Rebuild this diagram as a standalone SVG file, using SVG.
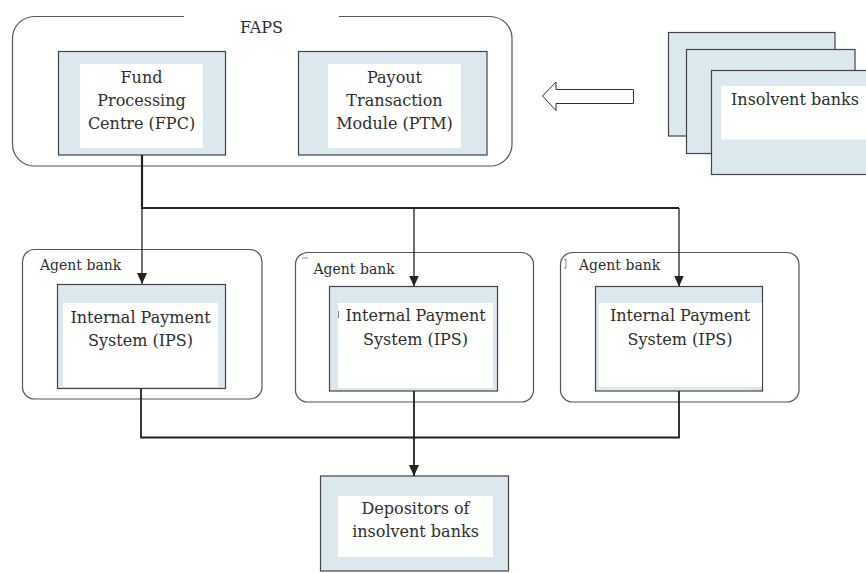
<svg xmlns="http://www.w3.org/2000/svg" width="866" height="573" viewBox="0 0 866 573">
<style>
.t{font-family:"DejaVu Serif","Liberation Serif",serif;font-size:16px;fill:#2e2e2e;text-anchor:middle}
.s{font-family:"DejaVu Serif","Liberation Serif",serif;font-size:14px;fill:#2e2e2e}
.blue{fill:#dbe9ef;stroke:#444;stroke-width:1.2}
.white{fill:#fff}
.grp{fill:none;stroke:#555;stroke-width:1.2}
.thick{fill:none;stroke:#222;stroke-width:2.2}
.thin{fill:none;stroke:#222;stroke-width:1.3}
.med{fill:none;stroke:#222;stroke-width:1.8}
.art{stroke:#888;stroke-width:1;fill:none}
</style>
<defs>
<marker id="ah" markerUnits="userSpaceOnUse" markerWidth="10" markerHeight="12" viewBox="0 0 10 12" refX="5" refY="11" orient="auto-start-reverse">
<path d="M0,0 L10,0 L5,11 Z" fill="#222" transform="rotate(0)"/>
</marker>
<marker id="ahd" markerUnits="userSpaceOnUse" markerWidth="10" markerHeight="12" viewBox="0 0 10 12" refX="11" refY="5" orient="auto">
<path d="M0,0 L11,5 L0,10 Z" fill="#222"/>
</marker>
</defs>
<rect width="866" height="573" fill="#fff"/>

<g id="faps">
<path class="grp" d="M184,16.5 H34.5 A22,22 0 0 0 12.5,38.5 V144 A22,22 0 0 0 34.5,166 H490 A22,22 0 0 0 512,144 V38.5 A22,22 0 0 0 490,16.5 H339"/>
<text class="t" x="261.5" y="33">FAPS</text>
</g>

<g id="fpc">
<rect class="blue" x="58.5" y="51.5" width="167" height="103.5"/>
<rect class="white" x="80" y="64" width="123" height="84"/>
<text class="t" x="141.5" y="83">Fund</text>
<text class="t" x="141.5" y="105.5">Processing</text>
<text class="t" x="141.5" y="129">Centre (FPC)</text>
</g>

<g id="ptm">
<rect class="blue" x="298.5" y="51.5" width="188.5" height="103.5"/>
<rect class="white" x="328" y="64" width="133" height="84"/>
<text class="t" x="394.5" y="83">Payout</text>
<text class="t" x="394.5" y="105.5">Transaction</text>
<text class="t" x="394.5" y="129">Module (PTM)</text>
</g>

<g id="arrow-hollow">
<polygon points="542.5,96 556,82 556,89.5 633.5,89.5 633.5,103.5 556,103.5 556,110.5" fill="#fff" stroke="#333" stroke-width="1"/>
</g>

<g id="insolvent-banks">
<rect class="blue" x="668.5" y="32.5" width="166.5" height="103.5"/>
<rect class="blue" x="686.5" y="49.5" width="168.5" height="104"/>
<rect class="blue" x="711.5" y="70.5" width="160" height="104"/>
<rect class="white" x="721" y="86" width="150" height="53.5"/>
<text class="t" x="731" y="104.5" style="text-anchor:start">Insolvent banks</text>
</g>

<g id="agent1">
<rect class="grp" x="22.5" y="249.5" width="239.5" height="149.5" rx="12"/>
<text class="s" x="40" y="269.5">Agent bank</text>
<rect class="blue" x="57.5" y="284.5" width="168" height="104"/>
<rect class="white" x="63" y="303" width="155" height="84"/>
<text class="t" x="140.5" y="322.5">Internal Payment</text>
<text class="t" x="140.5" y="346">System (IPS)</text>
</g>

<g id="agent2">
<rect class="grp" x="295.5" y="252.5" width="238" height="149.5" rx="12"/>
<line class="art" x1="302" y1="258" x2="308" y2="258"/>
<text class="s" x="313.5" y="273.5">Agent bank</text>
<rect class="blue" x="329.5" y="286.5" width="168" height="104.5"/>
<rect class="white" x="338" y="303" width="155" height="85"/>
<line class="art" x1="338.5" y1="311" x2="338.5" y2="318"/>
<text class="t" x="415.5" y="321">Internal Payment</text>
<text class="t" x="415.5" y="344.5">System (IPS)</text>
</g>

<g id="agent3">
<rect class="grp" x="560.5" y="252.5" width="238.5" height="149.5" rx="12"/>
<path class="art" d="M564,259.5 H566 V268 H564"/>
<text class="s" x="579" y="269.5">Agent bank</text>
<rect class="blue" x="595.5" y="286.5" width="167" height="104.5"/>
<rect class="white" x="599" y="303" width="163" height="84"/>
<text class="t" x="680" y="321">Internal Payment</text>
<text class="t" x="680" y="344.5">System (IPS)</text>
</g>

<g id="depositors">
<rect class="blue" x="320.5" y="476" width="188" height="95"/>
<rect class="white" x="338" y="496" width="155" height="61"/>
<text class="t" x="415.5" y="514">Depositors of</text>
<text class="t" x="415.5" y="537">insolvent banks</text>
</g>

<g id="connectors">
<path class="thick" d="M142,155 V208 H679"/>
<path class="thin" d="M142,208 V284" marker-end="url(#ahd)"/>
<path class="thin" d="M414,208 V286.5" marker-end="url(#ahd)"/>
<path class="thin" d="M679,208 V286.5" marker-end="url(#ahd)"/>
<path class="med" d="M141,389 V437.5 H679 V391"/>
<path class="med" d="M414,391 V476" marker-end="url(#ahd)"/>
</g>
</svg>
